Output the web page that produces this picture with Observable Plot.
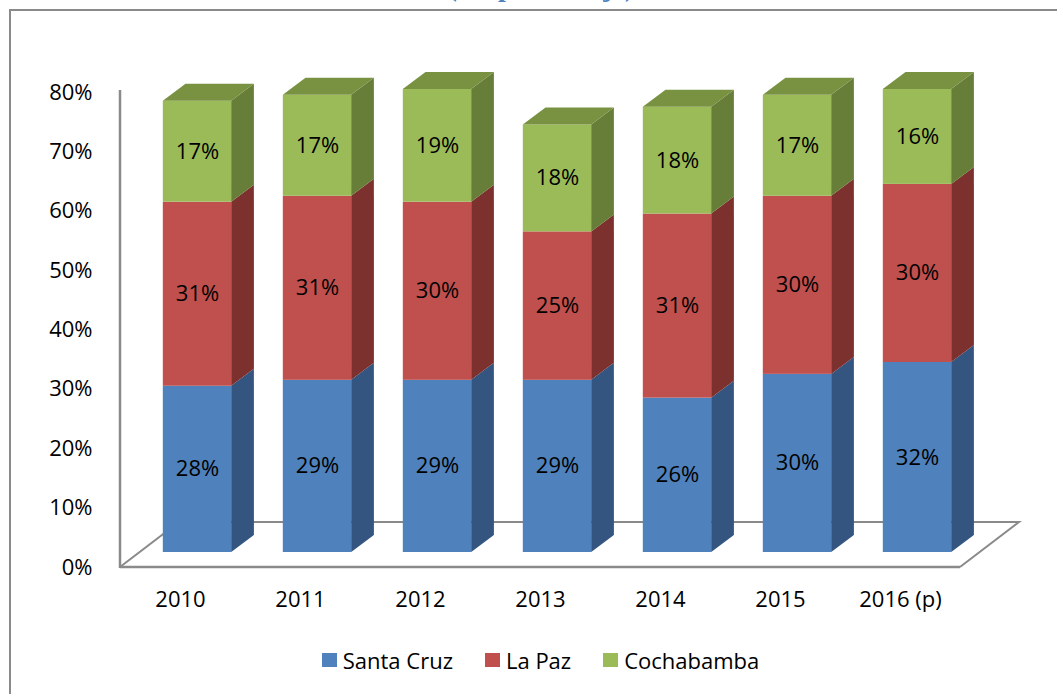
<!DOCTYPE html>
<html>
<head>
<meta charset="utf-8">
<script src="https://cdn.jsdelivr.net/npm/d3@7"></script>
<script src="https://cdn.jsdelivr.net/npm/@observablehq/plot@0.6"></script>
<style>
  html, body { margin: 0; padding: 0; background: #ffffff; }
  #wrap { position: relative; width: 1057px; height: 694px; overflow: hidden; background: #ffffff; }
  #border { position: absolute; left: 9px; top: 9px; width: 1200px; height: 900px;
            border-left: 2px solid #8a8a8a; border-top: 2px solid #8a8a8a; }
  #title { position: absolute; left: 0; top: -27px; width: 1082px; text-align: center;
           font: bold 28px "Liberation Serif", "Times New Roman", serif; line-height: 28px; color: #4F81BD; white-space: nowrap; }
  #chart { position: absolute; left: 0; top: 0; }
  #legend { position: absolute; left: 12px; top: 645px; width: 1057px; display: flex; justify-content: center;
            align-items: center; font: 22px "Open Sans", sans-serif; color: #000; }
  .item { display: flex; align-items: center; margin: 0 16px; }
  .sw { width: 15px; height: 14px; margin-right: 6px; }
</style>
</head>
<body>
<div id="wrap">
  <div id="border"></div>
  <div id="title">(En porcentaje)</div>
  <div id="chart"></div>
  <div id="legend"></div>
</div>
<script>
// ---- data ----
const years = ["2010", "2011", "2012", "2013", "2014", "2015", "2016 (p)"];
const seriesNames = ["Santa Cruz", "La Paz", "Cochabamba"];
const santaCruz = [28, 29, 29, 29, 26, 30, 32];
const laPaz = [31, 31, 30, 25, 31, 30, 30];
const cochabamba = [17, 17, 19, 18, 18, 17, 16];
const yTicks = [0, 0.1, 0.2, 0.3, 0.4, 0.5, 0.6, 0.7, 0.8];

// ---- styles ----
const frontColor = {"Santa Cruz": "#4F81BD", "La Paz": "#C0504D", "Cochabamba": "#9BBB59"};
const sideColor = {"Santa Cruz": "#33557F", "La Paz": "#7D312F", "Cochabamba": "#677E38"};
const topColor = {"Santa Cruz": "#4A6E9E", "La Paz": "#9E403D", "Cochabamba": "#789242"};
const SHIFT_X = 17, SHIFT_Y = -15;     // bars sit set back on the floor
const DEPTH_X = 22.7, DEPTH_Y = -17;   // bar depth
const FLOOR_X = 59, FLOOR_Y = -45;     // floor depth
const BAR_FRAC = 0.57;

// build stacked table
const seriesValues = [santaCruz, laPaz, cochabamba];
const data = [];
years.forEach((year, i) => {
  let acc = 0;
  seriesNames.forEach((s, k) => {
    const v = seriesValues[k][i];
    data.push({year, series: s, value: v, y1: acc / 100, y2: (acc + v) / 100, top: k === seriesNames.length - 1});
    acc += v;
  });
});

function stepOf(x) { return x(years[1]) - x(years[0]); }

function floorRender(index, scales, values, dims) {
  const x = scales.x, y = scales.y;
  const step = stepOf(x);
  const L = x(years[0]), R = x(years[years.length - 1]) + step;
  const y0 = y(0);
  const g = d3.create("svg:g");
  g.append("path")
    .attr("d", `M${L},${y0}L${L + FLOOR_X},${y0 + FLOOR_Y}L${R + FLOOR_X},${y0 + FLOOR_Y}L${R},${y0}`)
    .attr("fill", "none").attr("stroke", "#8a8a8a").attr("stroke-width", 2).attr("stroke-linejoin", "miter");
  g.append("line").attr("x1", L).attr("x2", R).attr("y1", y0).attr("y2", y0)
    .attr("stroke", "#8a8a8a").attr("stroke-width", 2.5);
  g.append("line").attr("x1", L).attr("x2", L).attr("y1", y0 + 1).attr("y2", y(0.8) - 2)
    .attr("stroke", "#8a8a8a").attr("stroke-width", 2.5);
  return g.node();
}

function barsRender(index, scales, values, dims) {
  const x = scales.x, y = scales.y;
  const step = stepOf(x);
  const bw = step * BAR_FRAC;
  const inset = (step - bw) / 2;
  const g = d3.create("svg:g");
  for (const i of index) {
    const d = data[i];
    const x0 = x(d.year) + inset + SHIFT_X, x1 = x0 + bw;
    const yb = y(d.y1) + SHIFT_Y, yt = y(d.y2) + SHIFT_Y;
    g.append("rect").attr("x", x0).attr("y", yt).attr("width", bw).attr("height", yb - yt)
      .attr("fill", frontColor[d.series]);
    g.append("path")
      .attr("d", `M${x1},${yb}L${x1 + DEPTH_X},${yb + DEPTH_Y}L${x1 + DEPTH_X},${yt + DEPTH_Y}L${x1},${yt}Z`)
      .attr("fill", sideColor[d.series]);
    if (d.top) {
      g.append("path")
        .attr("d", `M${x0},${yt}L${x1},${yt}L${x1 + DEPTH_X},${yt + DEPTH_Y}L${x0 + DEPTH_X},${yt + DEPTH_Y}Z`)
        .attr("fill", topColor[d.series]);
    }
  }
  return g.node();
}

const chart = Plot.plot({
  width: 1057,
  height: 620,
  marginLeft: 117,
  marginRight: 94,
  marginTop: 92,
  marginBottom: 53,
  x: {type: "band", domain: years, padding: 0},
  y: {domain: [0, 0.8]},
  style: {fontFamily: "'Open Sans', sans-serif", fontSize: "22px", color: "#000", background: "transparent", overflow: "visible"},
  marks: [
    Plot.ruleY([0], {render: floorRender}),
    Plot.barY(data, {x: "year", y1: "y1", y2: "y2", render: barsRender}),
    Plot.text(data, {x: "year", y: d => (d.y1 + d.y2) / 2, text: d => d.value + "%", dx: SHIFT_X, dy: SHIFT_Y,
                     fontSize: 22, fill: "#000"}),
    Plot.axisY(yTicks, {tickSize: 0, tickPadding: 25, tickFormat: d3.format(".0%"), label: null, fontSize: 22}),
    Plot.axisX({tickSize: 0, tickPadding: 24, label: null, fontSize: 22})
  ]
});
document.getElementById("chart").appendChild(chart);

// legend
const legend = document.getElementById("legend");
seriesNames.forEach(s => {
  const it = document.createElement("div");
  it.className = "item";
  const sw = document.createElement("div");
  sw.className = "sw";
  sw.style.background = frontColor[s];
  const t = document.createElement("span");
  t.textContent = s;
  it.appendChild(sw); it.appendChild(t);
  legend.appendChild(it);
});
</script>
</body>
</html>
